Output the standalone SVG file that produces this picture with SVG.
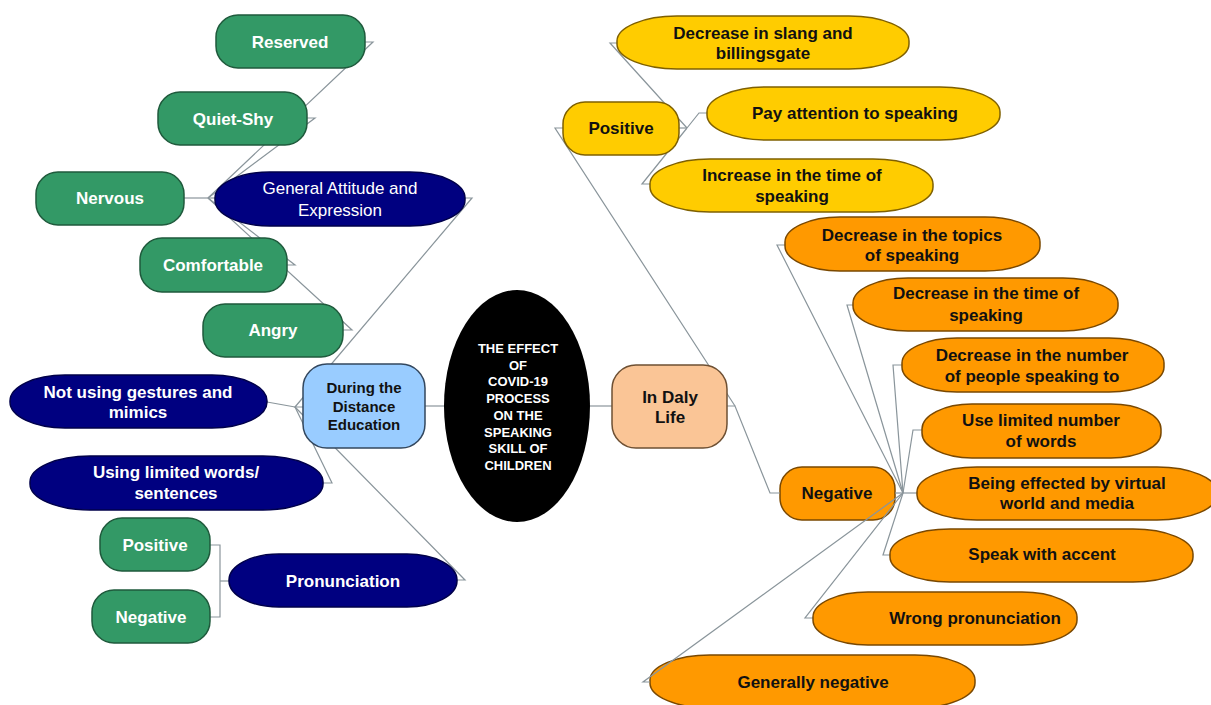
<svg xmlns="http://www.w3.org/2000/svg" width="1211" height="705" viewBox="0 0 1211 705">
<style>
text{font-family:"Liberation Sans",Arial,sans-serif;text-anchor:middle}
.g rect{fill:#339966;stroke:#1f5a3c;stroke-width:1.5}
.g text{fill:#fff;font-weight:bold;font-size:17px}
.n rect{fill:#000080;stroke:#00004a;stroke-width:1.5}
.n text{fill:#fff;font-weight:bold;font-size:17px}
.n text.reg{font-weight:normal}
.y rect{fill:#ffcc00;stroke:#7f6000;stroke-width:1.5}
.y text{fill:#111;font-weight:bold;font-size:17px}
.o rect{fill:#ff9900;stroke:#7a4800;stroke-width:1.5}
.o text{fill:#111;font-weight:bold;font-size:17px}
.c{fill:none;stroke:#8a959b;stroke-width:1.2}
</style>
<rect width="1211" height="705" fill="#fff"/>

<!-- nodes drawn beneath connectors -->
<g id="n-negative" class="o"><rect x="780" y="467" width="115" height="53" rx="22" ry="22"/><text x="837" y="499">Negative</text></g>
<g id="n-generally-negative" class="o"><rect x="650" y="655" width="325" height="53" rx="60" ry="25"/><text x="813" y="688">Generally negative</text></g>

<g id="connectors" class="c">
<polyline points="184,198 215,198"/>
<polyline points="208,198 373,42 365,42"/>
<polyline points="208,198 315,118 307,118"/>
<polyline points="208,198 295,265 287,265"/>
<polyline points="208,198 352,330 343,330"/>
<polyline points="465,198 472,198 295,407 303,407"/>
<polyline points="267,402 295,407"/>
<polyline points="295,407 332,483 323,483"/>
<polyline points="295,407 465,580 457,580"/>
<polyline points="229,581 220,581"/>
<polyline points="210,545 220,545 220,617 210,617"/>
<polyline points="425,406 444,406"/>
<polyline points="590,406 612,406"/>
<polyline points="727,406 735,406 770,493 780,493"/>
<polyline points="735,406 555,128 563,128"/>
<polyline points="679,128 687,128"/>
<polyline points="687,128 610,43 617,43"/>
<polyline points="687,128 699,113 707,113"/>
<polyline points="687,128 642,184 650,184"/>
<polyline points="895,493 917,493"/>
<polyline points="903,493 777,245 785,245"/>
<polyline points="903,493 847,305 853,305"/>
<polyline points="903,493 893,365 902,365"/>
<polyline points="903,493 913,430 922,430"/>
<polyline points="903,493 883,555 890,555"/>
<polyline points="903,493 805,618 813,618"/>
<polyline points="903,493 643,682 650,682"/>
</g>

<g id="n-center"><ellipse cx="517" cy="406" rx="73" ry="116" fill="#000"/>
<g fill="#fff" font-weight="bold" font-size="13">
<text x="518" y="353">THE EFFECT</text><text x="518" y="370">OF</text><text x="518" y="386">COVID-19</text><text x="518" y="403">PROCESS</text><text x="518" y="420">ON THE</text><text x="518" y="437">SPEAKING</text><text x="518" y="453">SKILL OF</text><text x="518" y="470">CHILDREN</text>
</g></g>

<g id="n-distance"><rect x="303" y="364" width="122" height="84" rx="24" ry="24" fill="#99ccff" stroke="#33475e" stroke-width="1.5"/>
<g fill="#111" font-weight="bold" font-size="15"><text x="364" y="393">During the</text><text x="364" y="412">Distance</text><text x="364" y="430">Education</text></g></g>

<g id="n-daily"><rect x="612" y="365" width="115" height="83" rx="24" ry="24" fill="#fac596" stroke="#6e5033" stroke-width="1.5"/>
<g fill="#111" font-weight="bold" font-size="17"><text x="670" y="403">In Daly</text><text x="670" y="423">Life</text></g></g>

<g id="n-general" class="n"><rect x="215" y="172" width="250" height="54" rx="55" ry="26"/><text class="reg" x="340" y="194">General Attitude and</text><text class="reg" x="340" y="216">Expression</text></g>
<g id="n-reserved" class="g"><rect x="216" y="15" width="149" height="53" rx="22" ry="22"/><text x="290" y="48">Reserved</text></g>
<g id="n-quiet" class="g"><rect x="158" y="92" width="149" height="53" rx="22" ry="22"/><text x="233" y="125">Quiet-Shy</text></g>
<g id="n-nervous" class="g"><rect x="36" y="172" width="148" height="53" rx="22" ry="22"/><text x="110" y="204">Nervous</text></g>
<g id="n-comfortable" class="g"><rect x="140" y="238" width="147" height="54" rx="22" ry="22"/><text x="213" y="271">Comfortable</text></g>
<g id="n-angry" class="g"><rect x="203" y="304" width="140" height="53" rx="22" ry="22"/><text x="273" y="336">Angry</text></g>
<g id="n-gestures" class="n"><rect x="10" y="375" width="257" height="53" rx="55" ry="26"/><text x="138" y="398">Not using gestures and</text><text x="138" y="418">mimics</text></g>
<g id="n-limited-words" class="n"><rect x="30" y="456" width="293" height="54" rx="60" ry="26"/><text x="176" y="478">Using limited words/</text><text x="176" y="499">sentences</text></g>
<g id="n-pronunciation" class="n"><rect x="229" y="554" width="228" height="53" rx="50" ry="26"/><text x="343" y="587">Pronunciation</text></g>
<g id="n-pron-positive" class="g"><rect x="100" y="518" width="110" height="53" rx="22" ry="22"/><text x="155" y="551">Positive</text></g>
<g id="n-pron-negative" class="g"><rect x="92" y="590" width="118" height="53" rx="22" ry="22"/><text x="151" y="623">Negative</text></g>

<g id="n-positive" class="y"><rect x="563" y="102" width="116" height="53" rx="22" ry="22"/><text x="621" y="134">Positive</text></g>
<g id="n-slang" class="y"><rect x="617" y="16" width="292" height="53" rx="60" ry="25"/><text x="763" y="39">Decrease in slang and</text><text x="763" y="59">billingsgate</text></g>
<g id="n-attention" class="y"><rect x="707" y="87" width="293" height="53" rx="60" ry="25"/><text x="855" y="119">Pay attention to speaking</text></g>
<g id="n-increase" class="y"><rect x="650" y="159" width="283" height="53" rx="60" ry="25"/><text x="792" y="181">Increase in the time of</text><text x="792" y="202">speaking</text></g>

<g id="n-topics" class="o"><rect x="785" y="217" width="255" height="54" rx="55" ry="25"/><text x="912" y="241">Decrease in the topics</text><text x="912" y="261">of speaking</text></g>
<g id="n-time" class="o"><rect x="853" y="278" width="265" height="53" rx="55" ry="25"/><text x="986" y="299">Decrease in the time of</text><text x="986" y="321">speaking</text></g>
<g id="n-number" class="o"><rect x="902" y="338" width="262" height="54" rx="55" ry="25"/><text x="1032" y="361">Decrease in the number</text><text x="1032" y="382">of people speaking to</text></g>
<g id="n-limited" class="o"><rect x="922" y="404" width="239" height="54" rx="50" ry="25"/><text x="1041" y="426">Use limited number</text><text x="1041" y="447">of words</text></g>
<g id="n-virtual" class="o"><rect x="917" y="467" width="300" height="53" rx="60" ry="25"/><text x="1067" y="489">Being effected by virtual</text><text x="1067" y="509">world and media</text></g>
<g id="n-accent" class="o"><rect x="890" y="529" width="303" height="53" rx="60" ry="25"/><text x="1042" y="560">Speak with accent</text></g>
<g id="n-wrong" class="o"><rect x="813" y="592" width="264" height="53" rx="55" ry="25"/><text x="975" y="624">Wrong pronunciation</text></g>
</svg>
